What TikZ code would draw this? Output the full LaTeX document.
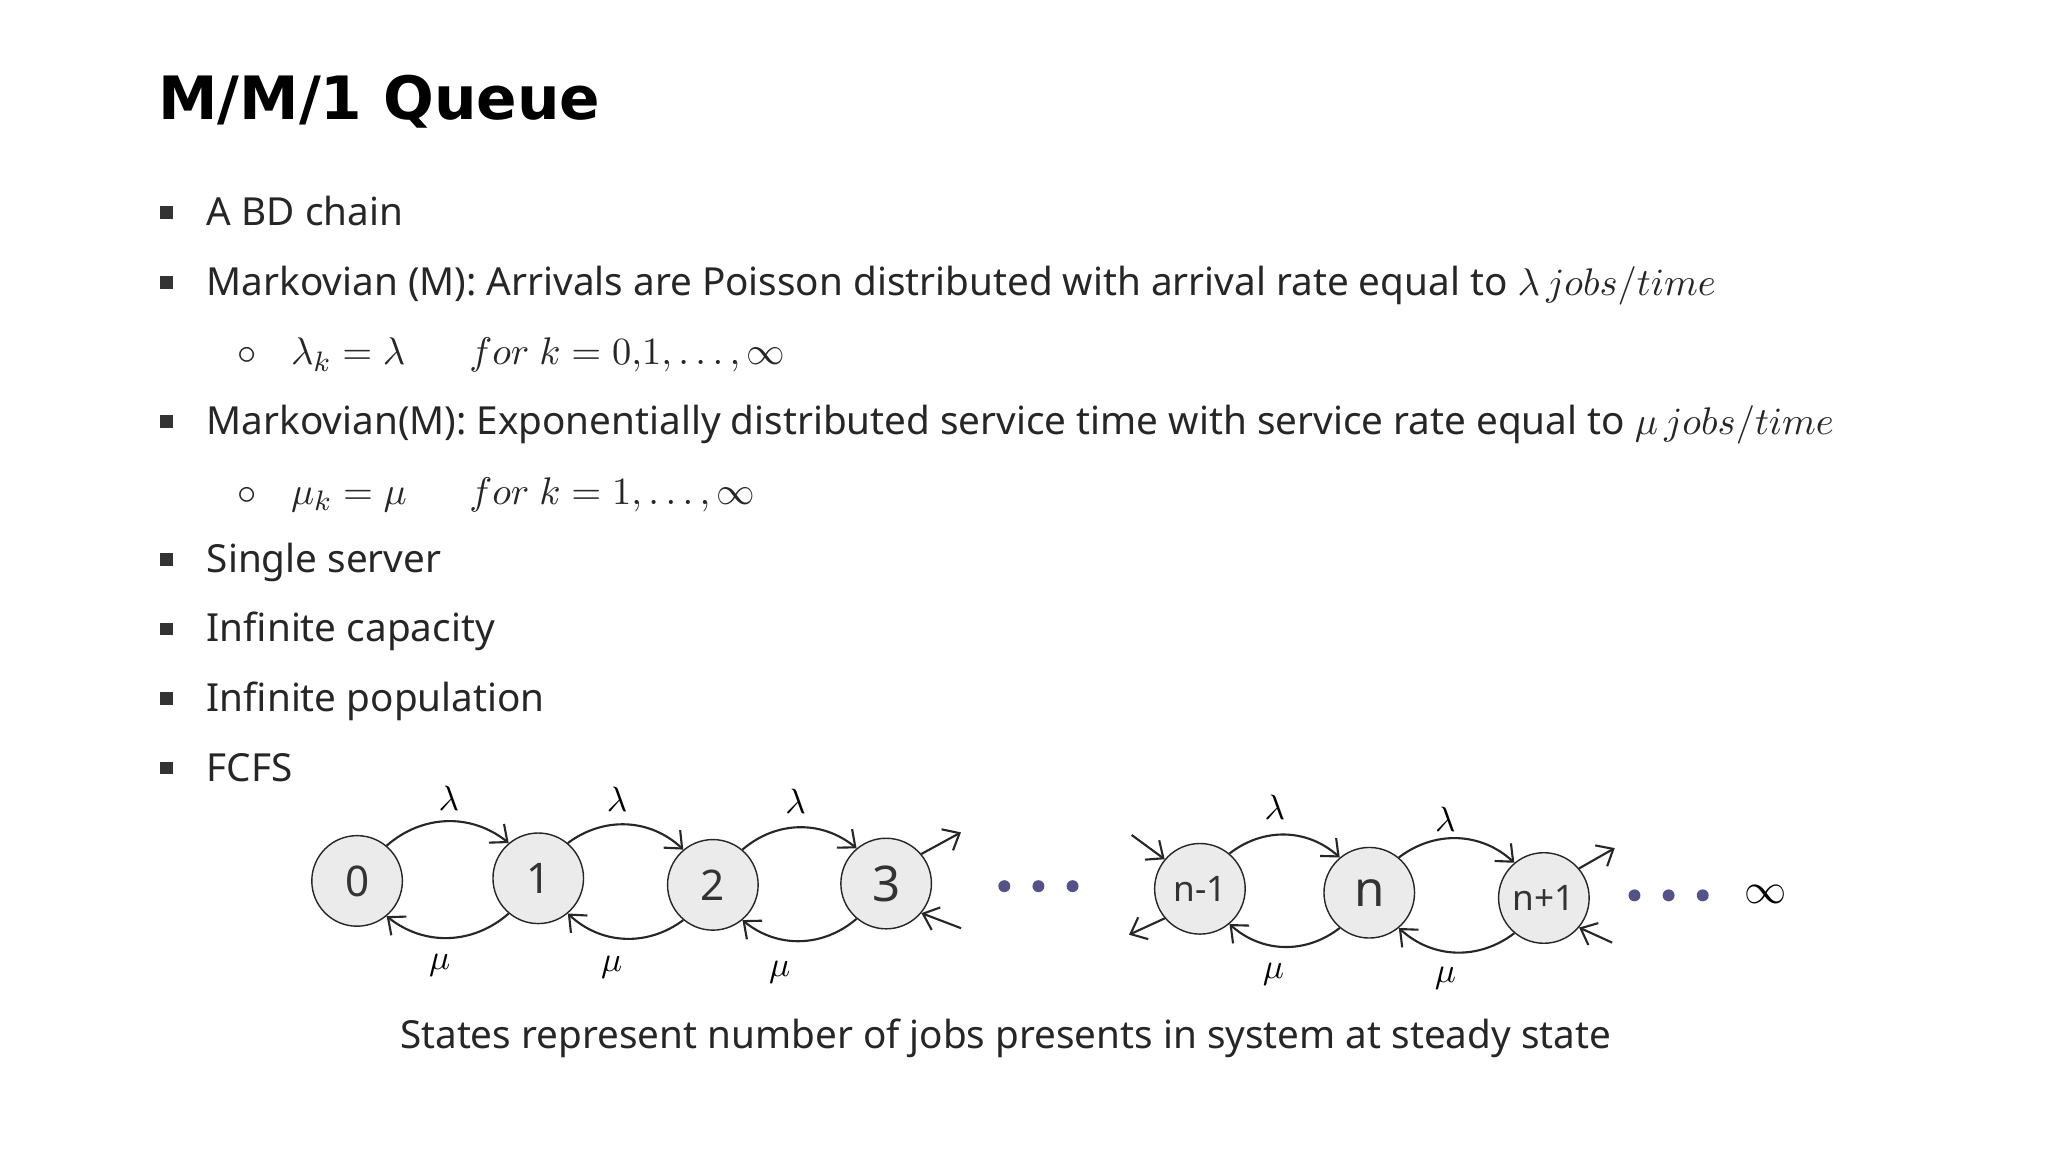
\documentclass[tikz,border=0pt]{standalone}
\usepackage{fontspec}
\setmainfont{Noto Sans}
\newfontfamily\titlefont{DejaVu Sans}
\usepackage{amsmath}
\usetikzlibrary{arrows.meta}
\begin{document}
\begin{tikzpicture}[x=0.013128cm,y=-0.013128cm,
  txt/.style={anchor=base west,inner sep=0pt,font=\fontsize{11}{13}\selectfont,text=black!85},
  st/.style={circle,draw=black!85,fill=black!8,minimum size=69*0.013128cm,inner sep=0pt,font=\fontsize{12}{14}\selectfont,text=black!80},
  arc/.style={-{Straight Barb[length=1.4mm,width=2.4mm]},semithick,black!85},
  lab/.style={font=\normalsize},
  bul/.style={fill=black!80,minimum size=3.6pt,inner sep=0pt},
  dot/.style={fill=black!40!blue!35!gray}]
\fill[white] (0,0) rectangle (1560,877.5);
\node[anchor=base west,inner sep=0pt,font=\titlefont\fontsize{17}{20}\selectfont\bfseries] (title) at (120,91) {M/M/1 Queue};
\foreach \y/\t [count=\i] in {164/{A BD chain},428/{Single server},481/{Infinite capacity},534/{Infinite population},587/{FCFS}}{
  \node[bul] (b\i) at (127,\y-2) {};
  \node[txt] (t\i) at (157,\y+8) {\t};
}
\node[bul] (bm1) at (127,215) {};
\node[txt] (m1) at (157,225) {Markovian (M): Arrivals are Poisson distributed with arrival rate equal to $\lambda\,jobs/time$};
\node[bul] (bm2) at (127,321) {};
\node[txt] (m2) at (157,331) {Markovian(M): Exponentially distributed service time with service rate equal to $\mu\,jobs/time$};
\node[txt] (s1) at (180,278) {$\circ$\hspace{0.9em}$\lambda_k=\lambda$};
\node[txt] (f1) at (357,278) {$for\ k=0{,}1,\dots,\infty$};
\node[txt] (s2) at (180,384) {$\circ$\hspace{0.9em}$\mu_k=\mu$};
\node[txt] (f2) at (357,384) {$for\ k=1,\dots,\infty$};
% states
\node[st] (s0) at (272,671) {0};
\node[st] (s1n) at (410,669) {1};
\node[st] (s2n) at (543,674) {2};
\node[st] (s3) at (675,673) {\fontsize{14}{16}\selectfont 3};
\node[st,font=\fontsize{10}{12}\selectfont] (sa) at (914,677) {n-1};
\node[st,font=\fontsize{14}{16}\selectfont] (sb) at (1043,680) {n};
\node[st,font=\fontsize{10}{12}\selectfont] (sc) at (1176,684) {n+1};
\foreach \a/\b in {s0/s1n,s1n/s2n,s2n/s3,sa/sb,sb/sc}{
  \draw[arc] (\a.50) to[bend left=40] (\b.130);
  \draw[arc] (\b.230) to[bend left=40] (\a.310);
}
\foreach \x/\y in {342/608,470/609,606/610,971/615,1101/624}{\node[lab] at (\x,\y) {$\lambda$};}
\foreach \x/\y in {335/735,466/737,594/741,970/742,1101/745}{\node[lab] at (\x,\y) {$\mu$};}
\coordinate (o3) at (732,634); \coordinate (i3) at (732,707);
\coordinate (ia) at (862,636); \coordinate (oa) at (860,712);
\coordinate (oc) at (1230,646); \coordinate (ic) at (1228,718);
\draw[arc] (s3.40) -- (o3);
\draw[arc] (i3) -- (s3.320);
\draw[arc] (ia) -- (sa.140);
\draw[arc] (sa.220) -- (oa);
\draw[arc] (sc.40) -- (oc);
\draw[arc] (ic) -- (sc.320);
\foreach \x in {765,791,817}{\fill[dot] (\x,675) circle (1.7pt);}
\foreach \x in {1245,1271,1297}{\fill[dot] (\x,682) circle (1.7pt);}
\node[font=\large] (inf) at (1345,681) {$\infty$};
\node[txt,anchor=base] (cap) at (766,799) {States represent number of jobs presents in system at steady state};
\end{tikzpicture}
\end{document}
